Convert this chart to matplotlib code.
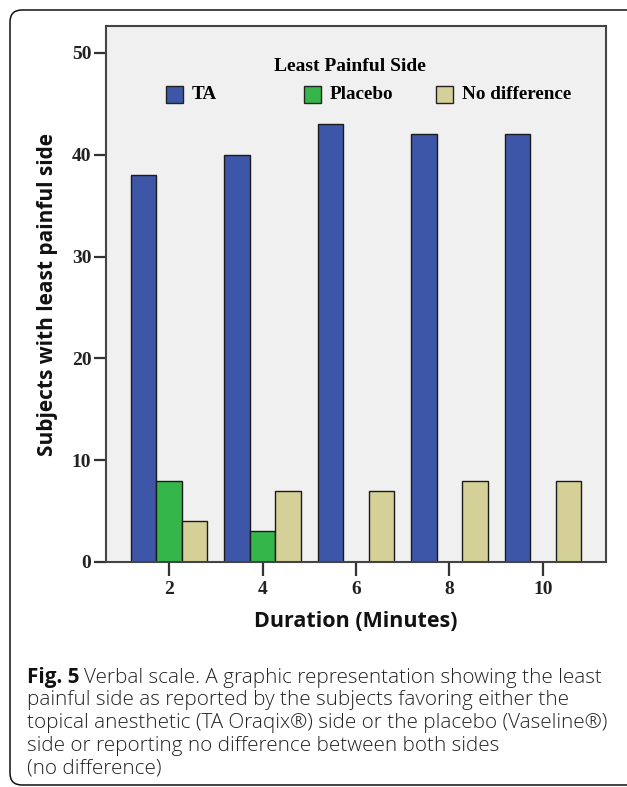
"""Least painful side by duration: grouped bars with the figure caption."""

import matplotlib

matplotlib.use("Agg")
import matplotlib.pyplot as plt
import numpy as np
from matplotlib.patches import FancyBboxPatch, Rectangle
from matplotlib.transforms import IdentityTransform

durations = ["2", "4", "6", "8", "10"]
series_names = ["TA", "Placebo", "No difference"]
ta_counts = [38, 40, 43, 42, 42]
placebo_counts = [8, 3, 0, 0, 0]
no_difference_counts = [4, 7, 7, 8, 8]
series_colors = ["#3E56A8", "#35B64B", "#D5D097"]
y_ticks = [0, 10, 20, 30, 40, 50]

caption_label = "Fig. 5"
caption_lines = [
	"Verbal scale. A graphic representation showing the least",
	"painful side as reported by the subjects favoring either the",
	"topical anesthetic (TA Oraqix\u00ae) side or the placebo (Vaseline\u00ae)",
	"side or reporting no difference between both sides",
	"(no difference)",
]

W, H, DPI = 627, 787, 100
SERIF = "Liberation Serif"
SANS = "Open Sans"

fig = plt.figure(figsize=(W / DPI, H / DPI), dpi=DPI)
fig.patch.set_facecolor("white")

# axes box in pixel terms: left 106, right 606, top 26, bottom 562
axis = fig.add_axes([106 / W, (H - 562) / H, 500 / W, 536 / H])
axis.set_facecolor("#F0F0F0")

x = np.arange(len(durations))
bar_width = 0.273
all_counts = [ta_counts, placebo_counts, no_difference_counts]
for offset, counts, color in zip((-1, 0, 1), all_counts, series_colors):
	axis.bar(
		x + offset * bar_width,
		counts,
		width=bar_width,
		color=color,
		edgecolor="#1A1A1A",
		linewidth=1.0,
		zorder=2,
	)

axis.set_xlim(-0.674, len(durations) - 1 + 0.674)
axis.set_ylim(0, 52.65)
axis.set_xticks(x)
axis.set_xticklabels(durations)
axis.set_yticks(y_ticks)
for label in axis.get_xticklabels() + axis.get_yticklabels():
	label.set_fontfamily(SERIF)
	label.set_fontweight("bold")
	label.set_fontsize(14)
	label.set_color("#222222")
axis.tick_params(axis="y", length=9, width=1.6, color="#333333", pad=1.5)
axis.tick_params(axis="x", length=10, width=1.6, color="#333333", pad=4)
for spine in axis.spines.values():
	spine.set_color("#444444")
	spine.set_linewidth(1.5)

axis.set_xlabel(
	"Duration (Minutes)", fontfamily=SANS, fontweight="bold", fontsize=15.5,
	color="#111111", labelpad=9,
)
axis.set_ylabel(
	"Subjects with least painful side", fontfamily=SANS, fontweight="bold",
	fontsize=15, color="#111111", labelpad=10,
)

# legend drawn by hand so the three entries sit evenly like the original
axis.text(
	0.488, 0.925, "Least Painful Side", transform=axis.transAxes,
	ha="center", va="center", fontfamily=SERIF, fontweight="bold", fontsize=14,
)
entry_left = [0.12, 0.396, 0.66]
box_w, box_h = 17 / 500, 17 / 536
for left, name, color in zip(entry_left, series_names, series_colors):
	axis.add_patch(
		Rectangle(
			(left, 0.873 - box_h / 2), box_w, box_h, transform=axis.transAxes,
			facecolor=color, edgecolor="#222222", linewidth=1.0, zorder=3,
		)
	)
	axis.text(
		left + 26 / 500, 0.873, name, transform=axis.transAxes, ha="left",
		va="center", fontfamily=SERIF, fontweight="bold", fontsize=13.8,
	)

# rounded frame around the whole panel, running off the right edge
fig.add_artist(
	FancyBboxPatch(
		(10, 2), 700, 775, boxstyle="round,pad=0,rounding_size=12",
		transform=IdentityTransform(), facecolor="none", edgecolor="#111111",
		linewidth=1.1,
	)
)

renderer = fig.canvas.get_renderer()
line_y = [678, 700.5, 723, 745.5, 768]
label_text = fig.text(
	27 / W, 1 - line_y[0] / H, caption_label, fontfamily=SANS, fontweight="bold",
	fontsize=14.9, va="center", ha="left", color="#111111",
)
label_end = label_text.get_window_extent(renderer).x1
for index, (line, y) in enumerate(zip(caption_lines, line_y)):
	start = (label_end + 5) if index == 0 else 27
	fig.text(
		start / W, 1 - y / H, line, fontfamily=SANS, fontsize=14.9,
		fontweight="light", va="center", ha="left", color="#222222",
	)

fig.savefig("out.png", dpi=DPI)
